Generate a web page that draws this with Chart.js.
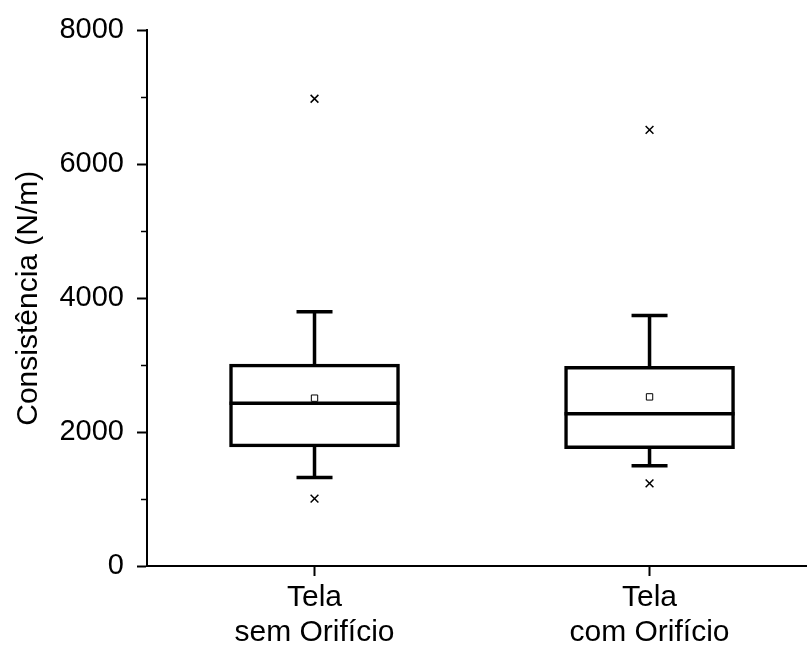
<!DOCTYPE html>
<html>
<head>
<meta charset="utf-8">
<script src="https://cdn.jsdelivr.net/npm/chart.js@4.4.1/dist/chart.umd.min.js"></script>
<style>
  body { margin: 0; background: #fff; }
  #wrap { width: 807px; height: 657px; }
</style>
</head>
<body>
<div id="wrap"><canvas id="boxChart" width="807" height="657"></canvas></div>

<script>
// box plot summary per group
const categories = [['Tela', 'sem Orifício'], ['Tela', 'com Orifício']];
const q1 = [1779, 1753];
const q3 = [3016, 2982];
const medians = [2432, 2273];
const whiskerLow = [1322, 1496];
const whiskerHigh = [3799, 3740];
const means = [2507, 2526];
const outliers = [[1006, 6979], [1233, 6514]];

const yMin = 0, yMax = 8000, yStep = 2000;
const minorTicks = [1000, 3000, 5000, 7000];

// whiskers, caps and median lines, drawn right after the boxes
const whiskerPlugin = {
    id: 'whiskers',
    afterDatasetDraw(chart, args) {
        if (args.index !== 0) return;
        const ctx = chart.ctx;
        const xs = chart.scales.x, ys = chart.scales.y;
        const half = 85, cap = 18;
        ctx.save();
        ctx.strokeStyle = '#000';
        ctx.lineWidth = 3.5;
        ctx.lineCap = 'butt';
        categories.forEach((c, i) => {
            const x = xs.getPixelForValue(i + 1);
            const yq1 = ys.getPixelForValue(q1[i]);
            const yq3 = ys.getPixelForValue(q3[i]);
            const yLo = ys.getPixelForValue(whiskerLow[i]);
            const yHi = ys.getPixelForValue(whiskerHigh[i]);
            const yMed = ys.getPixelForValue(medians[i]);
            ctx.beginPath();
            ctx.moveTo(x, yq3); ctx.lineTo(x, yHi);
            ctx.moveTo(x, yq1); ctx.lineTo(x, yLo);
            ctx.moveTo(x - cap, yHi); ctx.lineTo(x + cap, yHi);
            ctx.moveTo(x - cap, yLo); ctx.lineTo(x + cap, yLo);
            ctx.moveTo(x - half, yMed); ctx.lineTo(x + half, yMed);
            ctx.stroke();
        });
        ctx.restore();
    },
    afterDraw(chart) {
        // short minor ticks on the y axis
        const ctx = chart.ctx;
        const ys = chart.scales.y;
        const left = chart.chartArea.left;
        ctx.save();
        ctx.strokeStyle = '#000';
        ctx.lineWidth = 1.5;
        minorTicks.forEach(v => {
            const y = Math.round(ys.getPixelForValue(v)) + 0.5;
            ctx.beginPath();
            ctx.moveTo(left - 6, y);
            ctx.lineTo(left, y);
            ctx.stroke();
        });
        ctx.restore();
    }
};

Chart.defaults.font.family = '"Liberation Sans", Arial, sans-serif';
Chart.defaults.color = '#000';

const ctx = document.getElementById('boxChart').getContext('2d');
const boxChart = new Chart(ctx, {
    type: 'bar',
    data: {
        datasets: [{
            label: 'Caixa',
            data: categories.map((c, i) => ({ x: i + 1, y: [q1[i], q3[i]] })),
            backgroundColor: '#fff',
            borderColor: '#000',
            borderWidth: 3.5,
            borderSkipped: false,
            barThickness: 170,
            order: 2
        }, {
            type: 'scatter',
            label: 'Média',
            data: means.map((m, i) => ({ x: i + 1, y: m })),
            pointStyle: 'rect',
            pointRadius: 4.5,
            backgroundColor: '#fff',
            borderColor: '#000',
            borderWidth: 1,
            order: 1
        }, {
            type: 'scatter',
            label: 'Outliers',
            data: outliers.flatMap((arr, i) => arr.map(v => ({ x: i + 1, y: v }))),
            pointStyle: 'crossRot',
            pointRadius: 5.5,
            borderColor: '#000',
            borderWidth: 1.5,
            order: 0
        }]
    },
    options: {
        responsive: false,
        animation: false,
        layout: {
            autoPadding: false,
            padding: { top: 27, left: 0, right: 0, bottom: 0 }
        },
        plugins: {
            legend: { display: false },
            tooltip: { enabled: false }
        },
        scales: {
            x: {
                type: 'linear',
                min: 0.5,
                max: 2.47,
                offset: false,
                afterBuildTicks: scale => {
                    scale.ticks = categories.map((c, i) => ({ value: i + 1 }));
                },
                afterFit: scale => {
                    scale.height = 91;
                    scale.paddingLeft = 0;
                    scale.paddingRight = 0;
                },
                ticks: {
                    autoSkip: false,
                    maxRotation: 0,
                    padding: 4,
                    font: { size: 30, lineHeight: 1.167 },
                    callback: v => categories[v - 1]
                },
                grid: { offset: false, drawOnChartArea: false, drawTicks: true, tickLength: 10, tickWidth: 2, tickColor: '#000' },
                border: { display: true, color: '#000', width: 2 }
            },
            y: {
                min: yMin,
                max: yMax,
                afterFit: scale => { scale.width = 147; },
                ticks: {
                    stepSize: yStep,
                    padding: 13,
                    font: { size: 29 },
                    callback: v => String(v)
                },
                grid: { drawOnChartArea: false, drawTicks: true, tickLength: 10, tickWidth: 2, tickColor: '#000' },
                border: { display: true, color: '#000', width: 2 },
                title: {
                    display: true,
                    text: 'Consistência (N/m)',
                    font: { size: 30 },
                    padding: { top: 11, bottom: 0 }
                }
            }
        }
    },
    plugins: [whiskerPlugin]
});
</script>
</body>
</html>
